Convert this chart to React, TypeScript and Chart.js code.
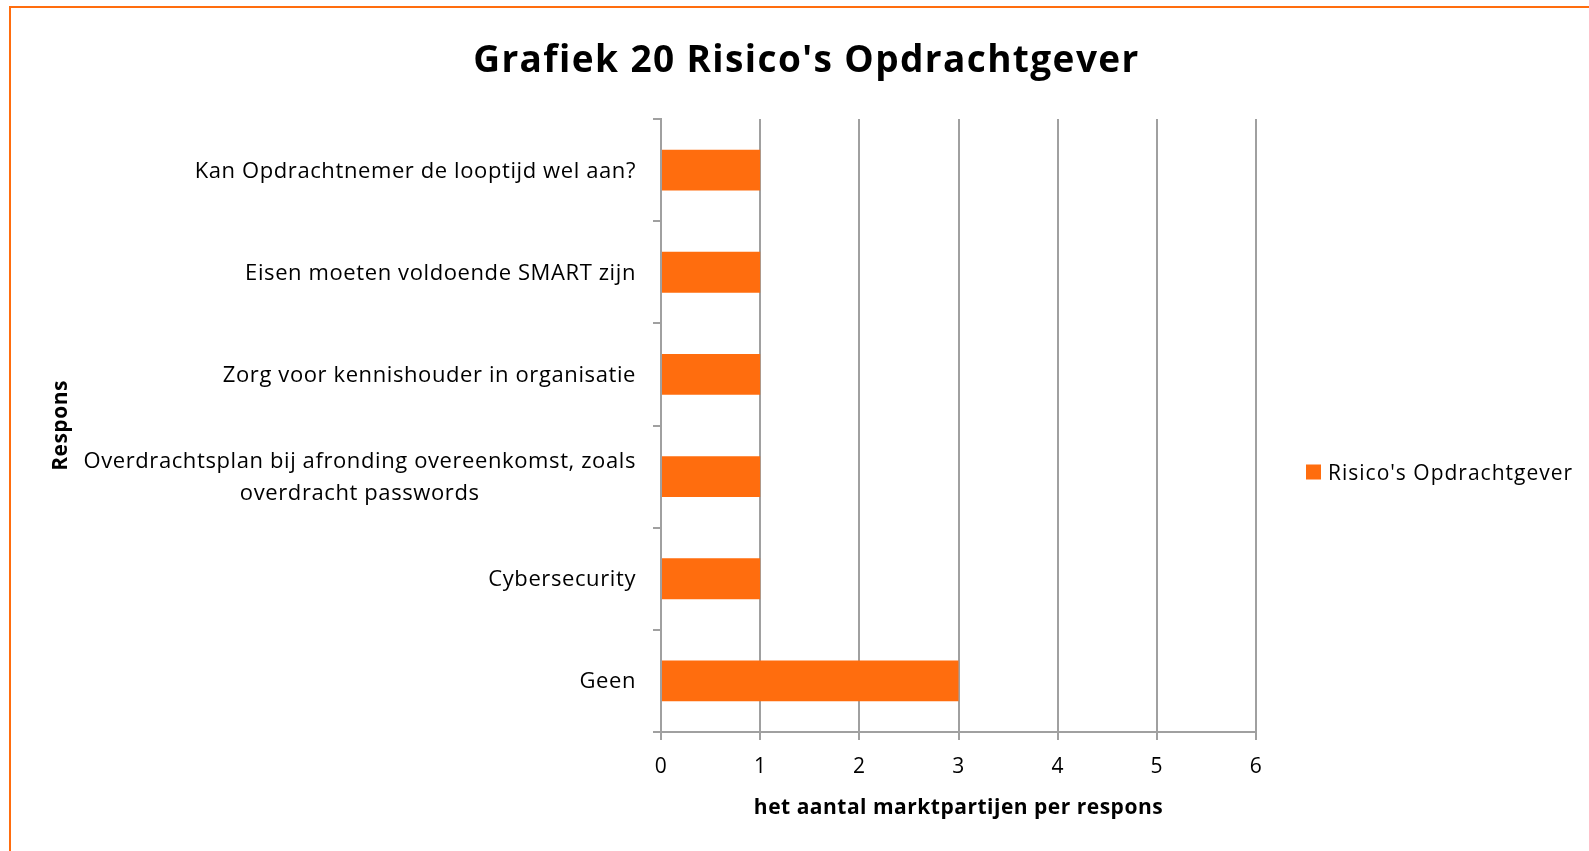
import React, { useEffect, useRef } from "react";
import { Chart, registerables } from "chart.js";

Chart.register(...registerables);

const chartTitle = "Grafiek 20 Risico's Opdrachtgever";
const seriesName = "Risico's Opdrachtgever";
const xTitle = "het aantal marktpartijen per respons";
const yTitle = "Respons";

const categories: string[][] = [
  ["Kan Opdrachtnemer de looptijd wel aan?"],
  ["Eisen moeten voldoende SMART zijn"],
  ["Zorg voor kennishouder in organisatie"],
  ["Overdrachtsplan bij afronding overeenkomst, zoals", "overdracht passwords"],
  ["Cybersecurity"],
  ["Geen"],
];
const values = [1, 1, 1, 1, 1, 3];
const xTicks = [0, 1, 2, 3, 4, 5, 6];

const ORANGE = "#ff6d0e";
const GRID = "#a0a0a0";
const FONT = '"Open Sans", "DejaVu Sans", sans-serif';

const spacingPlugin = {
  id: "spacingPlugin",
  beforeUpdate(chart: any) {
    chart.ctx.letterSpacing = "0.5px";
  },
  beforeDraw(chart: any) {
    chart.ctx.letterSpacing = "0.5px";
  },
};

const titlePlugin = {
  id: "titlePlugin",
  afterDraw(chart: any) {
    const ctx = chart.ctx;
    ctx.save();
    ctx.letterSpacing = "1.4px";
    ctx.font = `bold 37px ${FONT}`;
    ctx.fillStyle = "#000";
    ctx.textAlign = "center";
    ctx.textBaseline = "alphabetic";
    ctx.fillText(chartTitle, chart.width / 2 + 12, 72);
    ctx.restore();
  },
};

const yLabelPlugin = {
  id: "yLabelPlugin",
  afterDraw(chart: any) {
    const ctx = chart.ctx;
    const yScale = chart.scales.y;
    ctx.save();
    ctx.letterSpacing = "0.6px";
    ctx.font = `22px ${FONT}`;
    ctx.fillStyle = "#000";
    ctx.textBaseline = "alphabetic";
    ctx.textAlign = "center";
    const right = chart.chartArea.left - 25;
    categories.forEach((lines, i) => {
      const cy = yScale.getPixelForValue(i);
      const maxW = Math.max(...lines.map((l) => ctx.measureText(l).width));
      const cx = right - maxW / 2;
      lines.forEach((l, j) => {
        ctx.fillText(l, cx, cy + 7.5 + (j - (lines.length - 1) / 2) * 32.5);
      });
    });
    ctx.restore();
  },
};

const legendPlugin = {
  id: "legendPlugin",
  afterDraw(chart: any) {
    const ctx = chart.ctx;
    const area = chart.chartArea;
    const ds = chart.data.datasets[0];
    const x = area.right + 50;
    const mid = (area.top + area.bottom) / 2;
    ctx.save();
    ctx.fillStyle = ds.backgroundColor;
    ctx.fillRect(x, mid + 39, 15, 15);
    ctx.letterSpacing = "1px";
    ctx.font = `21px ${FONT}`;
    ctx.fillStyle = "#000";
    ctx.textBaseline = "alphabetic";
    ctx.textAlign = "left";
    ctx.fillText(ds.label, x + 22, mid + 54.5);
    ctx.restore();
  },
};

export default function App() {
  const canvasRef = useRef<HTMLCanvasElement | null>(null);

  useEffect(() => {
    if (!canvasRef.current) return;
    const chart = new Chart(canvasRef.current, {
      type: "bar",
      data: {
        labels: categories,
        datasets: [
          {
            label: seriesName,
            data: values,
            backgroundColor: ORANGE,
            borderWidth: 0,
            categoryPercentage: 0.4,
            barPercentage: 1,
          },
        ],
      },
      options: {
        indexAxis: "y",
        animation: false,
        responsive: false,
        layout: { padding: { top: 119, left: 0, right: 333, bottom: 0 } },
        plugins: {
          legend: { display: false },
          tooltip: { enabled: false },
          title: { display: false },
        },
        scales: {
          x: {
            type: "linear",
            min: 0,
            max: 6,
            afterBuildTicks: (scale: any) => {
              scale.ticks = xTicks.map((v) => ({ value: v }));
            },
            afterFit: (scale: any) => {
              scale.height = 119;
            },
            grid: { color: GRID, lineWidth: 2, drawTicks: true, tickLength: 8 },
            border: { display: true, color: GRID, width: 2 },
            ticks: {
              color: "#000",
              font: { family: FONT, size: 21 },
              padding: 14.4,
            },
            title: {
              display: true,
              text: xTitle,
              color: "#000",
              font: { family: FONT, size: 21, weight: "bold" },
              padding: { top: 0, bottom: 30.4 },
            },
          },
          y: {
            type: "category",
            afterFit: (scale: any) => {
              scale.width = 661;
            },
            grid: {
              display: true,
              offset: true,
              drawOnChartArea: false,
              drawTicks: true,
              tickLength: 8,
              color: GRID,
              lineWidth: 2,
            },
            border: { display: true, color: GRID, width: 2 },
            ticks: { display: false },
            title: {
              display: true,
              text: yTitle,
              color: "#000",
              font: { family: FONT, size: 21, weight: "bold" },
              padding: { top: 48.4, bottom: 0 },
            },
          },
        },
      },
      plugins: [spacingPlugin, titlePlugin, yLabelPlugin, legendPlugin],
    } as any);
    return () => chart.destroy();
  }, []);

  return (
    <div
      style={{
        position: "absolute",
        left: 0,
        top: 0,
        width: 1589,
        height: 851,
        overflow: "hidden",
        background: "#fff",
      }}
    >
      <canvas ref={canvasRef} width={1589} height={851} style={{ position: "absolute", left: 0, top: 0 }} />
      <div
        style={{
          position: "absolute",
          left: 9,
          top: 6,
          width: 1589,
          height: 851,
          borderLeft: `2px solid ${ORANGE}`,
          borderTop: `2px solid ${ORANGE}`,
          pointerEvents: "none",
        }}
      />
    </div>
  );
}
